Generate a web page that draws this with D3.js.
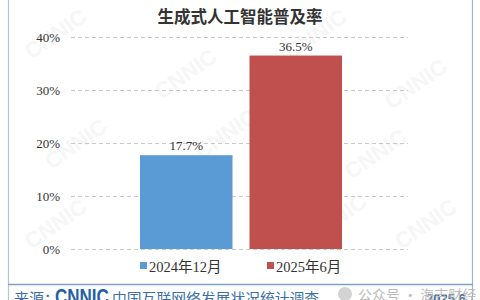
<!DOCTYPE html>
<html><head><meta charset="utf-8">
<script src="https://cdn.jsdelivr.net/npm/d3@7"></script>
<style>html,body{margin:0;padding:0;background:#fff;overflow:hidden}</style>
</head><body>
<script>
const title = "生成式人工智能普及率";
const categories = ["2024年12月", "2025年6月"];
const values = [17.7, 36.5];
const valueLabels = ["17.7%", "36.5%"];
const colors = ["#5b9bd5", "#c0504d"];
const yTicks = [0, 10, 20, 30, 40];
const tickLabels = ["0%", "10%", "20%", "30%", "40%"];

const W = 480, H = 300;
const svg = d3.select("body").append("svg").attr("width", W).attr("height", H);
svg.append("rect").attr("width", W).attr("height", H).attr("fill", "#fff");

// faint watermarks
const wm = [[60,40],[190,80],[320,40],[420,90],[80,150],[230,140],[380,160],[60,230],[200,215],[340,225],[430,230]];
svg.selectAll("text.wm").data(wm).join("text").attr("class","wm")
  .attr("transform", d => `translate(${d[0]},${d[1]}) rotate(-35)`)
  .attr("font-family","Arial, sans-serif").attr("font-weight","bold").attr("font-size",22)
  .attr("fill","#f6f6f6").attr("text-anchor","middle").text("CNNIC");

// frame
svg.append("line").attr("x1",8.5).attr("x2",8.5).attr("y1",0).attr("y2",300).attr("stroke","#b4c6d6").attr("stroke-width",1.2);
svg.append("line").attr("x1",472.5).attr("x2",472.5).attr("y1",0).attr("y2",300).attr("stroke","#9fb6c9").attr("stroke-width",1.2);
svg.append("line").attr("x1",8).attr("x2",473).attr("y1",284.5).attr("y2",284.5).attr("stroke","#7ea3c6").attr("stroke-width",1.6);

const y = d3.scaleLinear().domain([0, 40]).range([249, 37]);
const x = d3.scaleBand().domain(categories).range([140, 342]).paddingInner(0.155).paddingOuter(0);

// gridlines
svg.append("g").selectAll("line").data(yTicks).join("line")
  .attr("x1", 71).attr("x2", 408).attr("y1", d => y(d)+0.5).attr("y2", d => y(d)+0.5)
  .attr("stroke", "#c9c9c9").attr("stroke-width", 1).attr("stroke-dasharray", "4,3");

// y axis labels
const yAxis = d3.axisLeft(y).tickValues(yTicks).tickFormat((d,i) => tickLabels[i]).tickSize(0).tickPadding(0);
const gy = svg.append("g").attr("transform","translate(60,0)").call(yAxis);
gy.select(".domain").remove();
gy.selectAll("text").attr("font-family","Liberation Serif, Times New Roman, serif").attr("font-size",13).attr("fill","#333");

// bars
svg.selectAll("rect.bar").data(values).join("rect").attr("class","bar")
  .attr("x", (d,i) => x(categories[i])).attr("width", x.bandwidth())
  .attr("y", d => y(d)).attr("height", d => y(0) - y(d))
  .attr("fill", (d,i) => colors[i]);

svg.selectAll("text.vl").data(values).join("text").attr("class","vl")
  .attr("x", (d,i) => x(categories[i]) + x.bandwidth()/2).attr("y", d => y(d) - 5)
  .attr("text-anchor","middle").attr("font-family","Liberation Serif, Times New Roman, serif")
  .attr("font-size",13).attr("fill","#333").text((d,i) => valueLabels[i]);

// title
svg.append("text").attr("x", 240).attr("y", 23).attr("text-anchor","middle")
  .attr("font-family","Noto Sans CJK SC, sans-serif").attr("font-weight","bold").attr("font-size",16.5)
  .attr("fill","#333").text(title);

// legend
const legX = [140, 267];
const lg = svg.selectAll("g.leg").data(categories).join("g").attr("class","leg")
  .attr("transform",(d,i) => `translate(${legX[i]},267)`);
lg.append("rect").attr("x",0).attr("y",-5).attr("width",7).attr("height",7).attr("fill",(d,i)=>colors[i]);
lg.append("text").attr("x",9).attr("y",1.5).attr("dominant-baseline","middle")
  .attr("font-family","Liberation Serif, Noto Sans CJK SC, serif").attr("font-size",14.5).attr("fill","#333")
  .text(d => d);

// source line (clipped at bottom)
const src = svg.append("g").attr("transform","translate(0,304)");
src.append("text").attr("x",14).attr("y",0).attr("font-family","Noto Sans CJK SC, sans-serif").attr("font-size",15).attr("fill","#3d6fa6").text("来源：");
src.append("text").attr("transform","translate(55,0) scale(1,1.3)").attr("font-family","Arial, sans-serif").attr("font-weight","bold").attr("font-size",17).attr("fill","#1f5ea8").text("CNNIC");
src.append("text").attr("x",112).attr("y",0).attr("font-family","Noto Sans CJK SC, sans-serif").attr("font-size",14.8).attr("fill","#3d6fa6").text("中国互联网络发展状况统计调查");
svg.append("circle").attr("cx",345).attr("cy",294).attr("r",7).attr("fill","#c8c8c8").attr("opacity",0.8);
svg.append("text").attr("x",358).attr("y",300).attr("font-family","Noto Sans CJK SC, sans-serif").attr("font-size",14).attr("fill","#bbbbbb").text("公众号 · 海吉财经");
src.append("text").attr("x",426).attr("y",-1).attr("font-family","Arial, sans-serif").attr("font-weight","bold").attr("font-size",13).attr("fill","#1f4f8a").attr("opacity",0.85).text("2025.6");
</script>
</body></html>
